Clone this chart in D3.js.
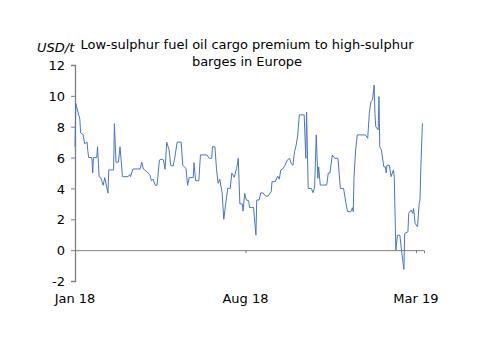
<!DOCTYPE html>
<html>
<head>
<meta charset="utf-8">
<script src="https://cdn.jsdelivr.net/npm/d3@7"></script>
<style>
  body { margin: 0; background: #fff; }
  svg text { font-family: "DejaVu Sans", Verdana, sans-serif; fill: #000; }
</style>
</head>
<body>
<div id="chart"></div>
<script>
// premium, USD/t
const dates = [
  "2018-01-01","2018-01-02","2018-01-07","2018-01-08","2018-01-11","2018-01-13","2018-01-16","2018-01-17",
  "2018-01-18","2018-01-22","2018-01-23","2018-01-24","2018-01-28","2018-01-29","2018-01-31","2018-02-02",
  "2018-02-05","2018-02-07","2018-02-11","2018-02-12","2018-02-18","2018-02-19","2018-02-21","2018-02-24",
  "2018-02-26","2018-03-01","2018-03-08","2018-03-10","2018-03-11","2018-03-14","2018-03-23","2018-03-25",
  "2018-03-27","2018-03-31","2018-04-04","2018-04-06","2018-04-08","2018-04-11","2018-04-13","2018-04-16",
  "2018-04-18","2018-04-21","2018-04-23","2018-04-25","2018-04-28","2018-04-30","2018-05-03","2018-05-05",
  "2018-05-08","2018-05-13","2018-05-15","2018-05-19","2018-05-21","2018-05-23","2018-05-28","2018-05-29",
  "2018-05-31","2018-06-04","2018-06-06","2018-06-14","2018-06-17","2018-06-20","2018-06-21","2018-06-24",
  "2018-06-26","2018-06-28","2018-06-30","2018-07-03","2018-07-05","2018-07-08","2018-07-10","2018-07-13",
  "2018-07-15","2018-07-18","2018-07-21","2018-07-23","2018-07-25","2018-07-28","2018-07-29","2018-07-31",
  "2018-08-02","2018-08-05","2018-08-06","2018-08-11","2018-08-14","2018-08-15","2018-08-18","2018-08-20",
  "2018-08-23","2018-08-26","2018-08-29","2018-09-02","2018-09-03","2018-09-07","2018-09-10","2018-09-12",
  "2018-09-14","2018-09-17","2018-09-19","2018-09-22","2018-09-25","2018-09-27","2018-09-29","2018-10-01",
  "2018-10-03","2018-10-05","2018-10-07","2018-10-13","2018-10-15","2018-10-16","2018-10-18","2018-10-22",
  "2018-10-24","2018-10-26","2018-10-28","2018-10-30","2018-10-31","2018-11-02","2018-11-10","2018-11-12",
  "2018-11-14","2018-11-17","2018-11-20","2018-11-24","2018-11-27","2018-12-01","2018-12-04","2018-12-06",
  "2018-12-10","2018-12-12","2018-12-13","2018-12-14","2018-12-16","2018-12-18","2018-12-28","2018-12-31",
  "2019-01-02","2019-01-04","2019-01-06","2019-01-08","2019-01-09","2019-01-10","2019-01-13","2019-01-14",
  "2019-01-15","2019-01-17","2019-01-20","2019-01-22","2019-01-23","2019-01-24","2019-01-27","2019-01-29",
  "2019-02-01","2019-02-02","2019-02-04","2019-02-06","2019-02-09","2019-02-11","2019-02-14","2019-02-15",
  "2019-02-19","2019-02-20","2019-02-23","2019-02-25","2019-02-26","2019-02-28","2019-03-03","2019-03-05",
  "2019-03-06","2019-03-07","2019-03-09"
];
const premium = [
  6.7, 9.5, 8.5, 7.6, 7.5, 6.9, 7.0, 6.4,
  6.0, 6.0, 5.0, 6.0, 6.0, 6.7, 4.76, 4.7,
  4.2, 4.7, 3.7, 5.2, 5.2, 8.2, 5.7, 5.7,
  6.7, 4.76, 4.76, 4.9, 4.76, 5.26, 5.26, 5.7,
  5.26, 5.1, 4.9, 4.5, 4.6, 4.2, 4.2, 5.84,
  5.9, 5.85, 5.24, 7.0, 6.5, 5.5, 5.45, 5.95,
  7.0, 7.0, 5.5, 5.3, 4.2, 4.7, 4.7, 5.67,
  4.5, 4.5, 6.17, 6.17, 5.95, 5.95, 6.7, 6.7,
  5.24, 4.33, 4.6, 3.68, 2.0, 3.25, 4.0, 4.0,
  5.0, 4.72, 5.3, 5.95, 3.0, 3.0, 2.53, 3.68,
  3.25, 3.2, 2.77, 2.77, 0.97, 3.25, 3.25, 3.72,
  3.7, 3.5, 3.5, 3.79, 4.44, 4.44, 4.8, 4.6,
  5.2, 5.3, 5.5, 5.84, 5.95, 5.6, 5.5, 6.4,
  6.8, 7.47, 8.77, 8.77, 5.95, 8.94, 4.0, 4.0,
  3.72, 4.1, 7.47, 4.65, 5.4, 4.22, 4.22, 5.0,
  5.0, 6.17, 5.95, 5.95, 4.0, 4.0, 3.03, 2.49,
  2.49, 2.75, 2.49, 4.76, 6.5, 7.47, 7.47, 7.25,
  8.87, 9.63, 9.74, 10.7, 8.87, 8.0, 7.8, 9.95,
  6.7, 6.5, 5.4, 5.4, 5.0, 5.5, 5.5, 4.76,
  5.2, 4.76, 0.0, 0.97, 0.97, 0.0, -1.25, 1.08,
  1.19, 2.38, 2.6, 2.38, 2.7, 1.73, 1.51, 3.03,
  3.25, 5.2, 8.22
];
const yTicks = [-2, 0, 2, 4, 6, 8, 10, 12];
const xTicks = ["2018-01-01", "2018-08-01", "2019-03-01"];
const xTickLabels = ["Jan 18", "Aug 18", "Mar 19"];
const titleLines = ["Low-sulphur fuel oil cargo premium to high-sulphur", "barges in Europe"];
const unitLabel = "USD/t";

const width = 500, height = 353;
const margin = {top: 65, right: 76, bottom: 72, left: 75};
const parse = d3.timeParse("%Y-%m-%d");

const data = dates.map((d, i) => ({date: parse(d), value: premium[i]}));

const svg = d3.select("#chart").append("svg")
    .attr("width", width)
    .attr("height", height);

let x = d3.scaleTime()
    .domain([parse("2018-01-01"), parse("2019-03-11")])
    .range([margin.left, width - margin.right]);

let y = d3.scaleLinear()
    .domain([-2, 12])
    .range([height - margin.bottom, margin.top]);

// y axis (plain hyphen for negatives, like the original)
let yAxis = d3.axisLeft(y)
    .tickValues(yTicks)
    .tickSize(4)
    .tickPadding(6)
    .tickFormat(d => String(d));

let yAxisGroup = svg.append("g")
    .attr("transform", `translate(${margin.left},0)`)
    .call(yAxis);
yAxisGroup.select(".domain").attr("stroke", "#7f7f7f").attr("stroke-width", 1.3);
yAxisGroup.selectAll(".tick line").attr("stroke", "#7f7f7f");
yAxisGroup.selectAll(".tick text").style("font-size", "13px").attr("dy", "0.36em");

// zero line with date ticks
let xAxis = d3.axisBottom(x)
    .tickValues(xTicks.map(parse))
    .tickSize(3)
    .tickFormat("");

let xAxisGroup = svg.append("g")
    .attr("transform", `translate(0,${y(0)})`)
    .call(xAxis);
xAxisGroup.select(".domain").attr("stroke", "#7f7f7f").attr("stroke-width", 1);
xAxisGroup.selectAll(".tick line").attr("stroke", "#7f7f7f");
xAxisGroup.selectAll(".tick").filter((d, i) => i === 0).select("line").remove();

// date labels sit below the plot
svg.append("g").selectAll("text")
    .data(xTicks)
    .enter().append("text")
    .attr("x", d => x(parse(d)))
    .attr("y", y(-2) + 22)
    .attr("text-anchor", "middle")
    .style("font-size", "13px")
    .text((d, i) => xTickLabels[i]);

// series
let line = d3.line()
    .x(d => x(d.date))
    .y(d => y(d.value));

svg.append("path")
    .datum(data)
    .attr("fill", "none")
    .attr("stroke", "#4a76c6")
    .attr("stroke-width", 1)
    .attr("stroke-linejoin", "round")
    .attr("d", line);

// title + unit
svg.append("g").selectAll("text")
    .data(titleLines)
    .enter().append("text")
    .attr("x", 247)
    .attr("y", (d, i) => 49 + i * 17)
    .attr("text-anchor", "middle")
    .style("font-size", "13px")
    .text(d => d);

svg.append("text")
    .attr("x", 37)
    .attr("y", 52)
    .style("font-size", "13px")
    .style("font-style", "italic")
    .text(unitLabel);
</script>
</body>
</html>
